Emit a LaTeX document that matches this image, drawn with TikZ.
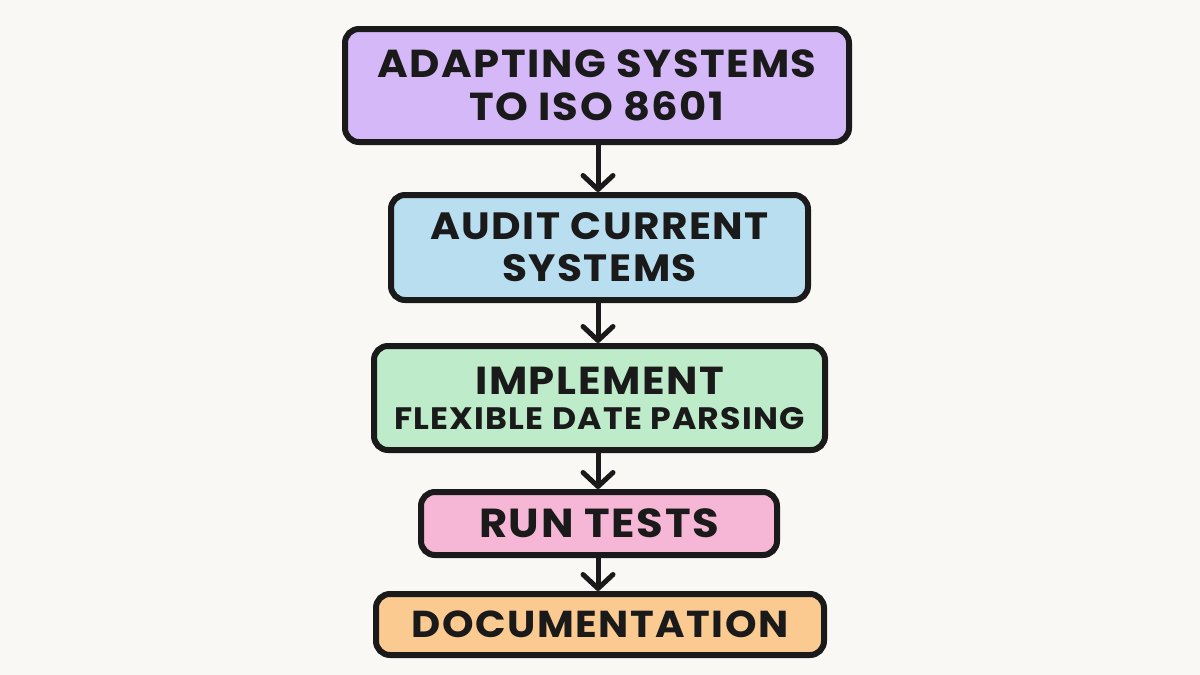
\documentclass[tikz,border=0pt]{standalone}
\usepackage{fontspec}
\newfontfamily\boxfont{Poppins}[UprightFont={* Bold}, LetterSpace=4, FakeStretch=1.07]
\usetikzlibrary{arrows.meta}
\definecolor{bg}{HTML}{FAF8F5}
\definecolor{ink}{HTML}{1A1A1A}
\definecolor{cpurple}{HTML}{D5B8F8}
\definecolor{cblue}{HTML}{B9DEF0}
\definecolor{cgreen}{HTML}{BEEBC9}
\definecolor{cpink}{HTML}{F6B6D6}
\definecolor{corange}{HTML}{FBCA91}
\tikzset{
  stepbox/.style={draw=ink, line width=6pt, rounded corners=14pt, align=center,
    text=ink, inner sep=0pt, font={\boxfont\fontsize{38.5}{43}\selectfont}},
  flowarrow/.style={draw=ink, line width=5pt, line cap=round,
    -{Straight Barb[length=14pt, width=30pt, line width=5pt, line cap=round, line join=round]}}
}
\begin{document}
\begin{tikzpicture}[x=1pt,y=-1pt]
\fill[bg] (0,0) rectangle (1200,675);
\useasboundingbox (0,0) rectangle (1200,675);
\node[stepbox, fill=cpurple, minimum width=504pt, minimum height=113pt,
  font={\boxfont\fontsize{39}{43}\selectfont}] (a) at (597,85.5)
  {ADAPTING SYSTEMS\\ TO ISO 8601};
\node[stepbox, fill=cblue, minimum width=417pt, minimum height=105pt,
  font={\boxfont\fontsize{38}{42}\selectfont}] (b) at (599.5,247.5)
  {AUDIT CURRENT\\ SYSTEMS};
\node[stepbox, fill=cgreen, minimum width=451pt, minimum height=104pt,
  font={\boxfont\fontsize{39}{35}\selectfont}] (c) at (599.5,398)
  {IMPLEMENT\\ {\fontsize{31}{35}\selectfont FLEXIBLE DATE PARSING}};
\node[stepbox, fill=cpink, minimum width=356pt, minimum height=63pt,
  font={\boxfont\fontsize{40.5}{42}\selectfont}] (d) at (599,523.5)
  {RUN TESTS};
\node[stepbox, fill=corange, minimum width=448pt, minimum height=61pt,
  font={\boxfont\fontsize{37.5}{42}\selectfont}] (e) at (600,624.5)
  {DOCUMENTATION};
\draw[flowarrow] (a.south -| 598,0) -- (b.north -| 598,0);
\draw[flowarrow] (b.south -| 598,0) -- (c.north -| 598,0);
\draw[flowarrow] (c.south -| 598,0) -- (d.north -| 598,0);
\draw[flowarrow] (d.south -| 598,0) -- (e.north -| 598,0);
\end{tikzpicture}
\end{document}
